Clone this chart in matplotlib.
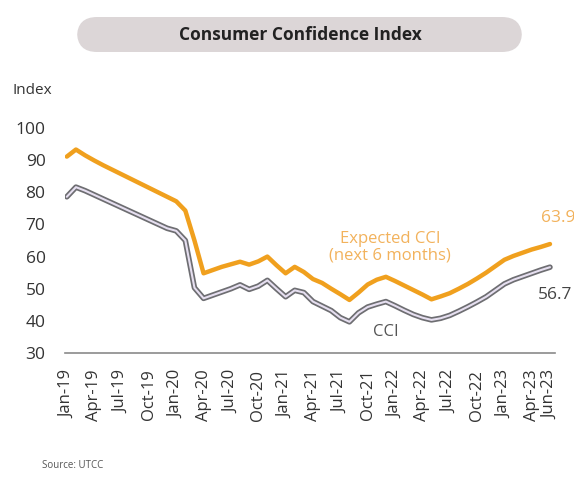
import matplotlib
matplotlib.use("Agg")
import matplotlib.pyplot as plt
from matplotlib.patches import FancyBboxPatch

plt.rcParams['font.family'] = ['Open Sans', 'DejaVu Sans']

tick_labels = ["Jan-19", "Apr-19", "Jul-19", "Oct-19", "Jan-20", "Apr-20", "Jul-20", "Oct-20",
               "Jan-21", "Apr-21", "Jul-21", "Oct-21", "Jan-22", "Apr-22", "Jul-22", "Oct-22",
               "Jan-23", "Apr-23", "Jun-23"]
tick_months = [0, 3, 6, 9, 12, 15, 18, 21, 24, 27, 30, 33, 36, 39, 42, 45, 48, 51, 53]

expected_cci = [91.1, 93.3, 91.5, 89.9, 88.4, 87.0, 85.6, 84.2, 82.8, 81.4, 80.0, 78.6,
                77.2, 74.3, 65.0, 54.8, 55.8, 56.8, 57.6, 58.4, 57.5, 58.5, 60.0, 57.3,
                54.8, 56.8, 55.2, 53.0, 51.8, 50.0, 48.3, 46.5, 48.8, 51.3, 52.8, 53.7,
                52.4, 51.0, 49.6, 48.2, 46.7, 47.6, 48.6, 50.0, 51.5, 53.2, 55.0, 57.0,
                59.0, 60.2, 61.2, 62.2, 63.0, 63.9]
cci = [78.6, 81.6, 80.5, 79.2, 77.9, 76.6, 75.3, 74.0, 72.7, 71.4, 70.1, 68.8,
       68.0, 65.0, 50.3, 47.0, 48.0, 49.0, 50.0, 51.2, 49.8, 50.8, 52.6, 50.0,
       47.5, 49.5, 48.8, 46.0, 44.6, 43.2, 41.0, 39.7, 42.5, 44.3, 45.2, 46.0,
       44.7, 43.3, 42.0, 41.0, 40.3, 40.8, 41.7, 43.0, 44.4, 45.9, 47.5, 49.5,
       51.5, 52.8, 53.8, 54.8, 55.8, 56.7]
months = list(range(len(cci)))
y_ticks = [30, 40, 50, 60, 70, 80, 90, 100]

fig = plt.figure(figsize=(5.74, 4.78), dpi=100)
ax = fig.add_axes([65/574, 1-353/478, 490/574, 225/478])

orange = "#F0A01E"
ax.plot(months, expected_cci, color=orange, lw=3.2, solid_capstyle='round',
        solid_joinstyle='round', zorder=3)
ax.plot(months, cci, color="#6E6E72", lw=4.0, solid_capstyle='round',
        solid_joinstyle='round', zorder=3)
ax.plot(months, cci, color="#E6DFF0", lw=1.5, solid_capstyle='round',
        solid_joinstyle='round', zorder=4)

ax.set_xlim(-0.2, 53.55)
ax.set_ylim(30, 100)
ax.set_yticks(y_ticks)
ax.set_xticks(tick_months)
ax.set_xticklabels(tick_labels, rotation=90, fontsize=12, color="#333333")
ax.tick_params(axis='y', length=0, pad=14, labelsize=12.5, labelcolor="#333333")
ax.tick_params(axis='x', length=0, pad=12)
for s in ['top', 'right', 'left']:
    ax.spines[s].set_visible(False)
ax.spines['bottom'].set_color("#8a8a8a")
ax.spines['bottom'].set_linewidth(1.2)

# annotations
fig.text(390/574, 1-247/478, "Expected CCI\n(next 6 months)", fontsize=12,
         color="#F2B25C", ha='center', va='center', linespacing=1.0)
fig.text(386/574, 1-332/478, "CCI", fontsize=12, color="#555555", ha='center', va='center')
fig.text(541/574, 1-218/478, "63.9", fontsize=12.5, color="#F2B25C", ha='left', va='center')
fig.text(538/574, 1-295/478, "56.7", fontsize=12.5, color="#444444", ha='left', va='center')
fig.text(12/574, 1-90/478, "Index", fontsize=11, color="#333333", ha='left', va='center')
fig.text(42/574, 1-466/478, "Source: UTCC", fontsize=7, color="#555555", ha='left', va='center')

# title box
box = FancyBboxPatch((77/574, 1-52/478), 445/574, 35/478,
                     boxstyle="round,pad=0,rounding_size=0.035",
                     transform=fig.transFigure, facecolor="#DCD6D7", edgecolor="none",
                     mutation_aspect=574/478)
fig.patches.append(box)
fig.text(300/574, 1-35/478, "Consumer Confidence Index", fontsize=12.5, fontweight='bold',
         color="#222222", ha='center', va='center')

fig.savefig("out.png", dpi=100)
